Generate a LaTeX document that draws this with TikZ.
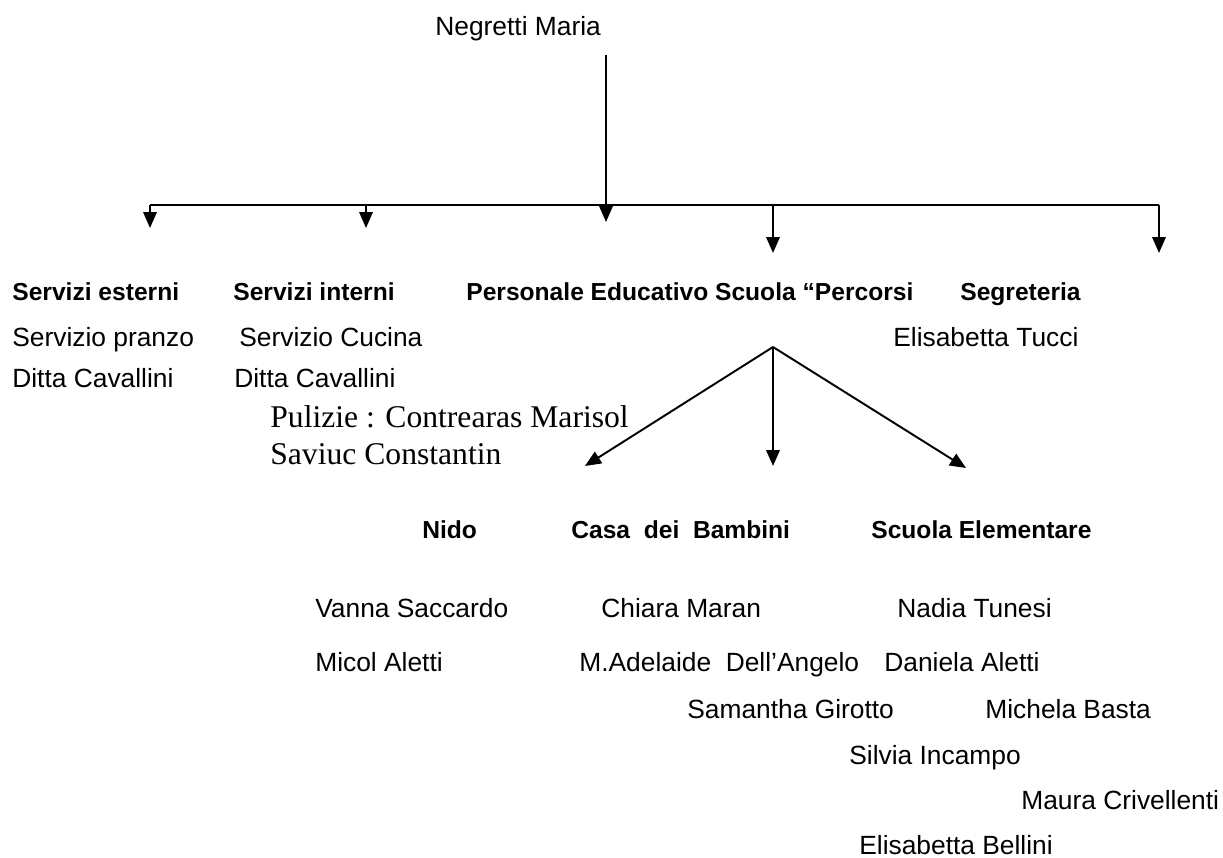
\documentclass[tikz,border=0pt]{standalone}
\usepackage{fontspec}
\setmainfont{Liberation Sans}
\newfontfamily\timesfont{Liberation Serif}
\usetikzlibrary{arrows.meta}

\tikzset{
  staff/.style={anchor=base west,inner sep=0pt,font=\fontsize{15}{18}\selectfont},
  head/.style={anchor=base west,inner sep=0pt,font=\fontsize{14}{17}\selectfont\bfseries},
  note/.style={anchor=base west,inner sep=0pt,font=\fontsize{18}{21}\selectfont\timesfont},
  link/.style={-{Triangle[width=0.27cm,length=0.32cm]},line width=1.1pt}
}

\begin{document}
\begin{tikzpicture}[x=0.02cm,y=-0.02cm]
  \useasboundingbox (0,0) rectangle (1223,858);
  %\draw [help lines,step=50] (0,0) grid (1223,858);

  % Direction at the top
  \node [staff] (boss) at (435,36) {Negretti Maria};

  % Main bar and its branches
  \coordinate (top) at (606,55);
  \coordinate (bar) at (606,205);
  \coordinate (barL) at (150,205);
  \coordinate (barR) at (1159,205);
  \coordinate (est) at (150,228);
  \coordinate (int) at (366,228);
  \coordinate (edu) at (606,222);
  \coordinate (scu) at (773,253);
  \coordinate (seg) at (1159,253);

  \draw [line width=1.1pt] (top) -- (bar);
  \draw [line width=1.1pt] (barL) -- (barR);
  \draw [link] (barL) -- (est);
  \draw [link] (366,205) -- (int);
  \draw [link] (bar) -- (edu);
  \draw [link] (773,205) -- (scu);
  \draw [link] (barR) -- (seg);

  % First level of headings
  \node [head] (esterni) at (12,300) {Servizi esterni};
  \node [head] (interni) at (233,300) {Servizi interni};
  \node [head] (educ) at (466,300) {Personale Educativo Scuola “Percorsi};
  \node [head] (segr) at (960,300) {Segreteria};

  \node [staff] (pranzo) at (12,346) {Servizio pranzo};
  \node [staff] (cucina) at (239,346) {Servizio Cucina};
  \node [staff] (tucci) at (893,346) {Elisabetta Tucci};
  \node [staff] (ditta1) at (12,387) {Ditta Cavallini};
  \node [staff] (ditta2) at (234,387) {Ditta Cavallini};

  \node [note] (pulizie) at (270,427) {Pulizie : Contrearas Marisol};
  \node [note] (saviuc) at (270,464) {Saviuc Constantin};

  % Fork towards the three schools
  \coordinate (fork) at (773,347);
  \coordinate (nidoT) at (585,466);
  \coordinate (casaT) at (773,466);
  \coordinate (elemT) at (966,468);
  \draw [link] (fork) -- (nidoT);
  \draw [link] (fork) -- (casaT);
  \draw [link] (fork) -- (elemT);

  \node [head] (nido) at (422,538) {Nido};
  \node [head] (casa) at (571,538) {Casa\ \ dei\ \ Bambini};
  \node [head] (elem) at (871,538) {Scuola Elementare};

  % Staff of each school
  \node [staff] (vanna) at (315,617) {Vanna Saccardo};
  \node [staff] (micol) at (315,671) {Micol Aletti};
  \node [staff] (chiara) at (601,617) {Chiara Maran};
  \node [staff] (adel) at (579,671) {M.Adelaide\ \ Dell’Angelo};
  \node [staff] (samantha) at (687,718) {Samantha Girotto};
  \node [staff] (nadia) at (897,617) {Nadia Tunesi};
  \node [staff] (daniela) at (884,671) {Daniela Aletti};
  \node [staff] (michela) at (985,718) {Michela Basta};
  \node [staff] (silvia) at (849,764) {Silvia Incampo};
  \node [staff] (maura) at (1021,809) {Maura Crivellenti};
  \node [staff] (bellini) at (859,854) {Elisabetta Bellini};

\end{tikzpicture}
\end{document}
